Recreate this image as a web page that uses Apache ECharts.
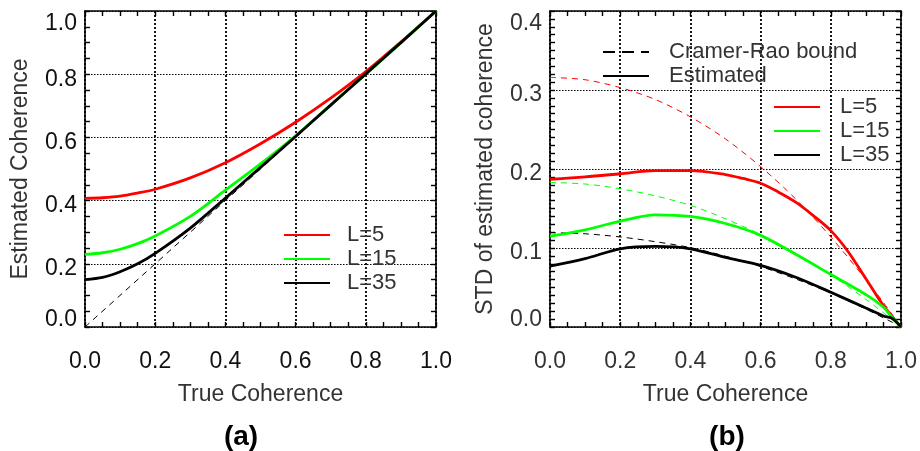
<!DOCTYPE html>
<html>
<head>
<meta charset="utf-8">
<script src="https://cdn.jsdelivr.net/npm/echarts@6/dist/echarts.min.js"></script>
<style>html,body{margin:0;padding:0;background:#fff}#c{width:920px;height:451px}</style>
</head>
<body>
<div id="c"></div>
<script>
// ---- Panel (a): estimated coherence vs true coherence ----
const xA = [0, 0.05, 0.1, 0.15, 0.2, 0.3, 0.4, 0.5, 0.6, 0.7, 0.8, 0.9, 1.0];
const estL5 = [0.407, 0.409, 0.414, 0.424, 0.436, 0.472, 0.520, 0.580, 0.648, 0.724, 0.808, 0.902, 1.0];
const estL15 = [0.230, 0.235, 0.246, 0.264, 0.288, 0.350, 0.433, 0.516, 0.605, 0.703, 0.800, 0.900, 1.0];
const estL35 = [0.150, 0.157, 0.175, 0.200, 0.233, 0.313, 0.408, 0.505, 0.603, 0.702, 0.801, 0.900, 1.0];
const diagX = [0, 1];
const diagY = [0, 1];

// ---- Panel (b): STD of estimated coherence ----
const xB = [0, 0.1, 0.2, 0.3, 0.4, 0.5, 0.6, 0.7, 0.8, 0.9, 0.95, 0.975, 1.0];
const xB5 = [0, 0.1, 0.2, 0.3, 0.4, 0.5, 0.55, 0.6, 0.65, 0.7, 0.75, 0.8, 0.85, 0.9, 0.95, 1.0];
const stdL5 = [0.187, 0.190, 0.194, 0.198, 0.198, 0.193, 0.188, 0.182, 0.171, 0.158, 0.141, 0.122, 0.095, 0.061, 0.027, 0];
const crbL5 = [0.316, 0.313, 0.303, 0.288, 0.266, 0.238, 0.203, 0.162, 0.114, 0.060, 0.031, 0.0156, 0];
const stdL15 = [0.115, 0.123, 0.134, 0.142, 0.140, 0.131, 0.116, 0.092, 0.0665, 0.041, 0.025, 0.012, 0];
const crbL15 = [0.183, 0.181, 0.175, 0.166, 0.154, 0.137, 0.117, 0.093, 0.066, 0.035, 0.018, 0.009, 0];
const stdL35 = [0.077, 0.0865, 0.099, 0.102, 0.099, 0.088, 0.078, 0.063, 0.044, 0.024, 0.014, 0.011, 0];
const crbL35 = [0.1195, 0.118, 0.114, 0.108, 0.1005, 0.0896, 0.0765, 0.0608, 0.043, 0.0227, 0.0116, 0.006, 0];

const seriesNames = ['L=5', 'L=15', 'L=35'];
const legendB = ['Cramer-Rao bound', 'Estimated'];
const xTicks = { min: 0, max: 1, interval: 0.2 };
const yTicksA = { min: 0, max: 1, interval: 0.2 };
const yTicksB = { min: 0, max: 0.4, interval: 0.1 };

const FONT = '"Liberation Sans", Arial, Helvetica, sans-serif';
const RED = '#ff0000', GREEN = '#00ff00', BLACK = '#000000';
const TICK_FS = 23;

function pairs(xs, ys) { return xs.map((x, i) => [x, ys[i]]); }

function xAxisCfg(grid, pos, withLabels, name) {
  return {
    type: 'value', gridIndex: grid, position: pos,
    min: xTicks.min, max: xTicks.max, interval: xTicks.interval,
    axisLine: { show: true, onZero: false, lineStyle: { color: '#000', width: 1.6 } },
    axisTick: { show: true, inside: true, length: 5, lineStyle: { color: '#000', width: 1.4 } },
    minorTick: { show: true, splitNumber: 4, length: 5, lineStyle: { color: '#000', width: 1.4 } },
    splitLine: { show: withLabels, lineStyle: { color: '#000', type: [2, 2], width: 1.8 } },
    axisLabel: withLabels ? {
      show: true, margin: 23, fontSize: TICK_FS, fontFamily: FONT, color: grid === 0 ? '#111' : '#333',
      formatter: v => v.toFixed(1)
    } : { show: false },
    name: withLabels ? name : '',
    nameLocation: 'middle', nameGap: 56,
    nameTextStyle: { fontSize: 23, fontFamily: FONT, color: '#333' }
  };
}

function yAxisCfg(grid, pos, withLabels, ticks, minorSplit, name, nameGap) {
  const col = grid === 0 ? '#111' : '#333';
  const rich = {
    mid: { fontSize: TICK_FS, fontFamily: FONT, color: col, padding: [10, 0, 0, 0] },
    hi: { fontSize: TICK_FS, fontFamily: FONT, color: col, padding: [26, 0, 0, 0] },
    lo: { fontSize: TICK_FS, fontFamily: FONT, color: col, padding: [0, 0, 15, 0] }
  };
  return {
    type: 'value', gridIndex: grid, position: pos,
    min: ticks.min, max: ticks.max, interval: ticks.interval,
    axisLine: { show: true, onZero: false, lineStyle: { color: '#000', width: 1.6 } },
    axisTick: { show: true, inside: true, length: 5, lineStyle: { color: '#000', width: 1.4 } },
    minorTick: { show: true, splitNumber: minorSplit, length: 5, lineStyle: { color: '#000', width: 1.4 } },
    splitLine: { show: withLabels, lineStyle: { color: '#000', type: [1.5, 1.5], width: 1.2 } },
    axisLabel: withLabels ? {
      show: true, margin: 8,
      formatter: v => {
        const s = v.toFixed(1);
        if (Math.abs(v - ticks.min) < 1e-9) return '{lo|' + s + '}';
        if (Math.abs(v - ticks.max) < 1e-9) return '{hi|' + s + '}';
        return '{mid|' + s + '}';
      },
      rich: rich
    } : { show: false },
    name: withLabels ? name : '',
    nameLocation: 'middle', nameGap: nameGap,
    nameTextStyle: { fontSize: 23, fontFamily: FONT, color: '#333' }
  };
}

function lineSeries(name, xs, ys, xi, yi, color, width, dash, z) {
  return {
    type: 'line', name: name, xAxisIndex: xi, yAxisIndex: yi,
    data: pairs(xs, ys), symbol: 'none', showSymbol: false, smooth: 0.3,
    lineStyle: { color: color, width: width, type: dash || 'solid' },
    itemStyle: { color: color }, z: z || 3, silent: true
  };
}

const legendText = { fontSize: 22, fontFamily: FONT, color: '#333', lineHeight: 24 };
const legendBase = {
  orient: 'vertical', itemWidth: 46, itemHeight: 14, itemGap: 0, selectedMode: false,
  itemStyle: { opacity: 0, borderWidth: 0 }
};

const option = {
  animation: false,
  backgroundColor: '#fff',
  grid: [
    { left: 85, top: 11, width: 351, height: 316 },
    { left: 550, top: 11, width: 352, height: 316 }
  ],
  xAxis: [
    xAxisCfg(0, 'bottom', true, 'True Coherence'),
    xAxisCfg(0, 'top', false, ''),
    xAxisCfg(1, 'bottom', true, 'True Coherence'),
    xAxisCfg(1, 'top', false, '')
  ],
  yAxis: [
    yAxisCfg(0, 'left', true, yTicksA, 4, 'Estimated Coherence', 53),
    yAxisCfg(0, 'right', false, yTicksA, 4, '', 0),
    yAxisCfg(1, 'left', true, yTicksB, 10, 'STD of estimated coherence', 53),
    yAxisCfg(1, 'right', false, yTicksB, 10, '', 0)
  ],
  legend: [
    Object.assign({}, legendBase, {
      data: seriesNames, left: 278, top: 218,
      textStyle: Object.assign({ padding: [0, 0, 0, 12] }, legendText)
    }),
    Object.assign({}, legendBase, {
      data: seriesNames, left: 768, top: 90,
      textStyle: Object.assign({ padding: [0, 0, 0, 15] }, legendText)
    }),
    Object.assign({}, legendBase, {
      data: legendB, left: 597, top: 35,
      textStyle: Object.assign({ padding: [0, 0, 0, 15] }, legendText)
    })
  ],
  series: [
    lineSeries('diag', diagX, diagY, 0, 0, BLACK, 1, [6, 5], 2),
    lineSeries('L=5', xA, estL5, 0, 0, RED, 2.8),
    lineSeries('L=15', xA, estL15, 0, 0, GREEN, 2.8),
    lineSeries('L=35', xA, estL35, 0, 0, BLACK, 2.8),
    lineSeries('crb5', xB, crbL5, 2, 2, RED, 1, [6, 5], 2),
    lineSeries('crb15', xB, crbL15, 2, 2, GREEN, 1, [6, 5], 2),
    lineSeries('crb35', xB, crbL35, 2, 2, BLACK, 1, [6, 5], 2),
    lineSeries('std5', xB5, stdL5, 2, 2, RED, 2.8),
    lineSeries('std15', xB, stdL15, 2, 2, GREEN, 2.8),
    lineSeries('std35', xB, stdL35, 2, 2, BLACK, 2.8),
    { type: 'line', name: 'Cramer-Rao bound', xAxisIndex: 2, yAxisIndex: 2, data: [], symbol: 'none',
      lineStyle: { color: BLACK, width: 3, type: [12, 7] }, itemStyle: { color: BLACK } },
    { type: 'line', name: 'Estimated', xAxisIndex: 2, yAxisIndex: 2, data: [], symbol: 'none',
      lineStyle: { color: BLACK, width: 3 }, itemStyle: { color: BLACK } }
  ],
  graphic: [
    { type: 'text', x: 241, y: 437, style: { text: '(a)', font: 'bold 28px ' + FONT, fill: '#000', align: 'center', verticalAlign: 'middle' } },
    { type: 'text', x: 727, y: 437, style: { text: '(b)', font: 'bold 28px ' + FONT, fill: '#000', align: 'center', verticalAlign: 'middle' } }
  ]
};

const chart = echarts.init(document.getElementById('c'), null, { renderer: 'canvas' });
chart.setOption(option);
</script>
</body>
</html>
